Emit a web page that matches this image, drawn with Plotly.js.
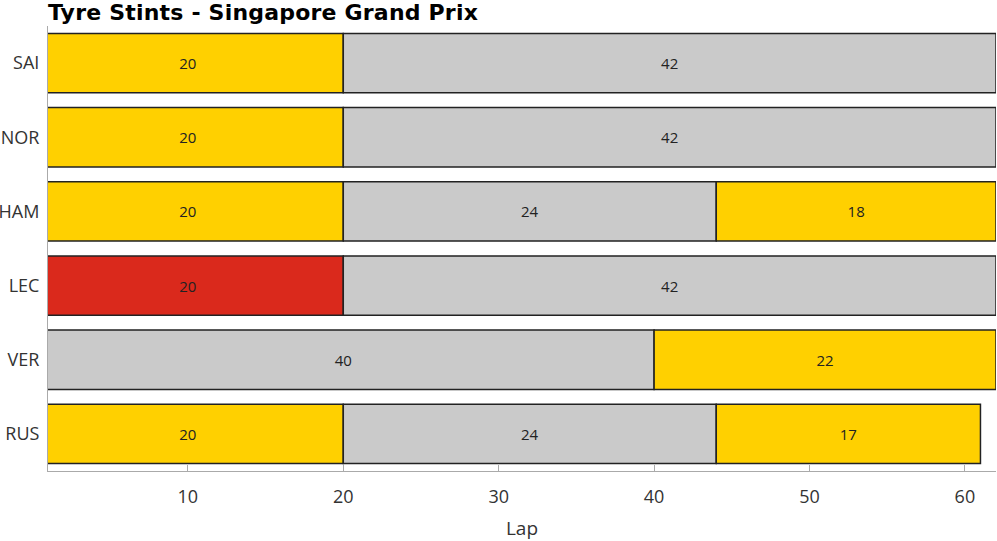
<!DOCTYPE html>
<html>
<head>
<meta charset="utf-8">
<script src="https://cdn.plot.ly/plotly-3.0.1.min.js"></script>
<style>html,body{margin:0;padding:0;background:#fff;}#chart{width:997px;height:541px;}</style>
</head>
<body>
<div id="chart"></div>
<script>
const drivers = ["SAI", "NOR", "HAM", "LEC", "VER", "RUS"];
const stint1Laps = [20, 20, 20, 20, 40, 20];
const stint1Compound = ["MEDIUM", "MEDIUM", "MEDIUM", "SOFT", "HARD", "MEDIUM"];
const stint2Laps = [42, 42, 24, 42, 22, 24];
const stint2Compound = ["HARD", "HARD", "HARD", "HARD", "MEDIUM", "HARD"];
const stint3Laps = [null, null, 18, null, null, 17];
const stint3Compound = ["", "", "MEDIUM", "", "", "MEDIUM"];
const titleText = "Tyre Stints - Singapore Grand Prix";

const compoundColors = {SOFT: "#DA291C", MEDIUM: "#FFD000", HARD: "#CACACA", "": "rgba(0,0,0,0)"};

const stints = [
  [stint1Laps, stint1Compound],
  [stint2Laps, stint2Compound],
  [stint3Laps, stint3Compound]
];

const traces = [];
const cum = drivers.map(() => 0);
stints.forEach(([laps, comps]) => {
  const base = cum.slice();
  traces.push({
    type: "bar",
    orientation: "h",
    y: drivers,
    x: laps,
    base: base,
    width: 0.8,
    marker: {
      color: comps.map(c => compoundColors[c]),
      line: {color: "#222222", width: 1.5}
    },
    text: laps.map(v => v == null ? "" : String(v)),
    textposition: "inside",
    insidetextanchor: "middle",
    textangle: 0,
    textfont: {family: "Open Sans, sans-serif", size: 15, color: "#222222"},
    constraintext: "none",
    hoverinfo: "skip",
    showlegend: false
  });
  laps.forEach((v, i) => { if (v != null) cum[i] += v; });
});

const layout = {
  width: 997,
  height: 541,
  margin: {l: 48, r: 1, t: 26, b: 70},
  paper_bgcolor: "#ffffff",
  plot_bgcolor: "#ffffff",
  barmode: "overlay",
  title: {
    text: '<span style="letter-spacing:0.2px">' + titleText + '</span>',
    font: {family: "DejaVu Sans, sans-serif", size: 22, weight: 700, color: "#000000"},
    x: 48 / 997,
    xref: "container",
    xanchor: "left",
    y: 1 - 12 / 541,
    yref: "container",
    yanchor: "middle"
  },
  xaxis: {
    range: [1, 62],
    tickvals: [10, 20, 30, 40, 50, 60],
    ticks: "inside",
    ticklen: 6,
    tickcolor: "#aaaaaa",
    showline: true,
    linecolor: "#aaaaaa",
    linewidth: 1,
    showgrid: false,
    zeroline: false,
    ticklabelstandoff: 9,
    tickfont: {family: "Open Sans, sans-serif", size: 18, color: "#333333"},
    title: {text: "Lap", font: {family: "Open Sans, sans-serif", size: 19, color: "#333333"}, standoff: 16}
  },
  yaxis: {
    type: "category",
    categoryorder: "array",
    categoryarray: drivers,
    autorange: "reversed",
    showline: true,
    linecolor: "#aaaaaa",
    linewidth: 1,
    showgrid: false,
    zeroline: false,
    ticks: "",
    ticklabelstandoff: 4,
    tickfont: {family: "Open Sans, sans-serif", size: 18, color: "#333333"}
  },
  font: {family: "Open Sans, sans-serif"}
};

Plotly.newPlot("chart", traces, layout, {displayModeBar: false, staticPlot: true});
</script>
</body>
</html>
